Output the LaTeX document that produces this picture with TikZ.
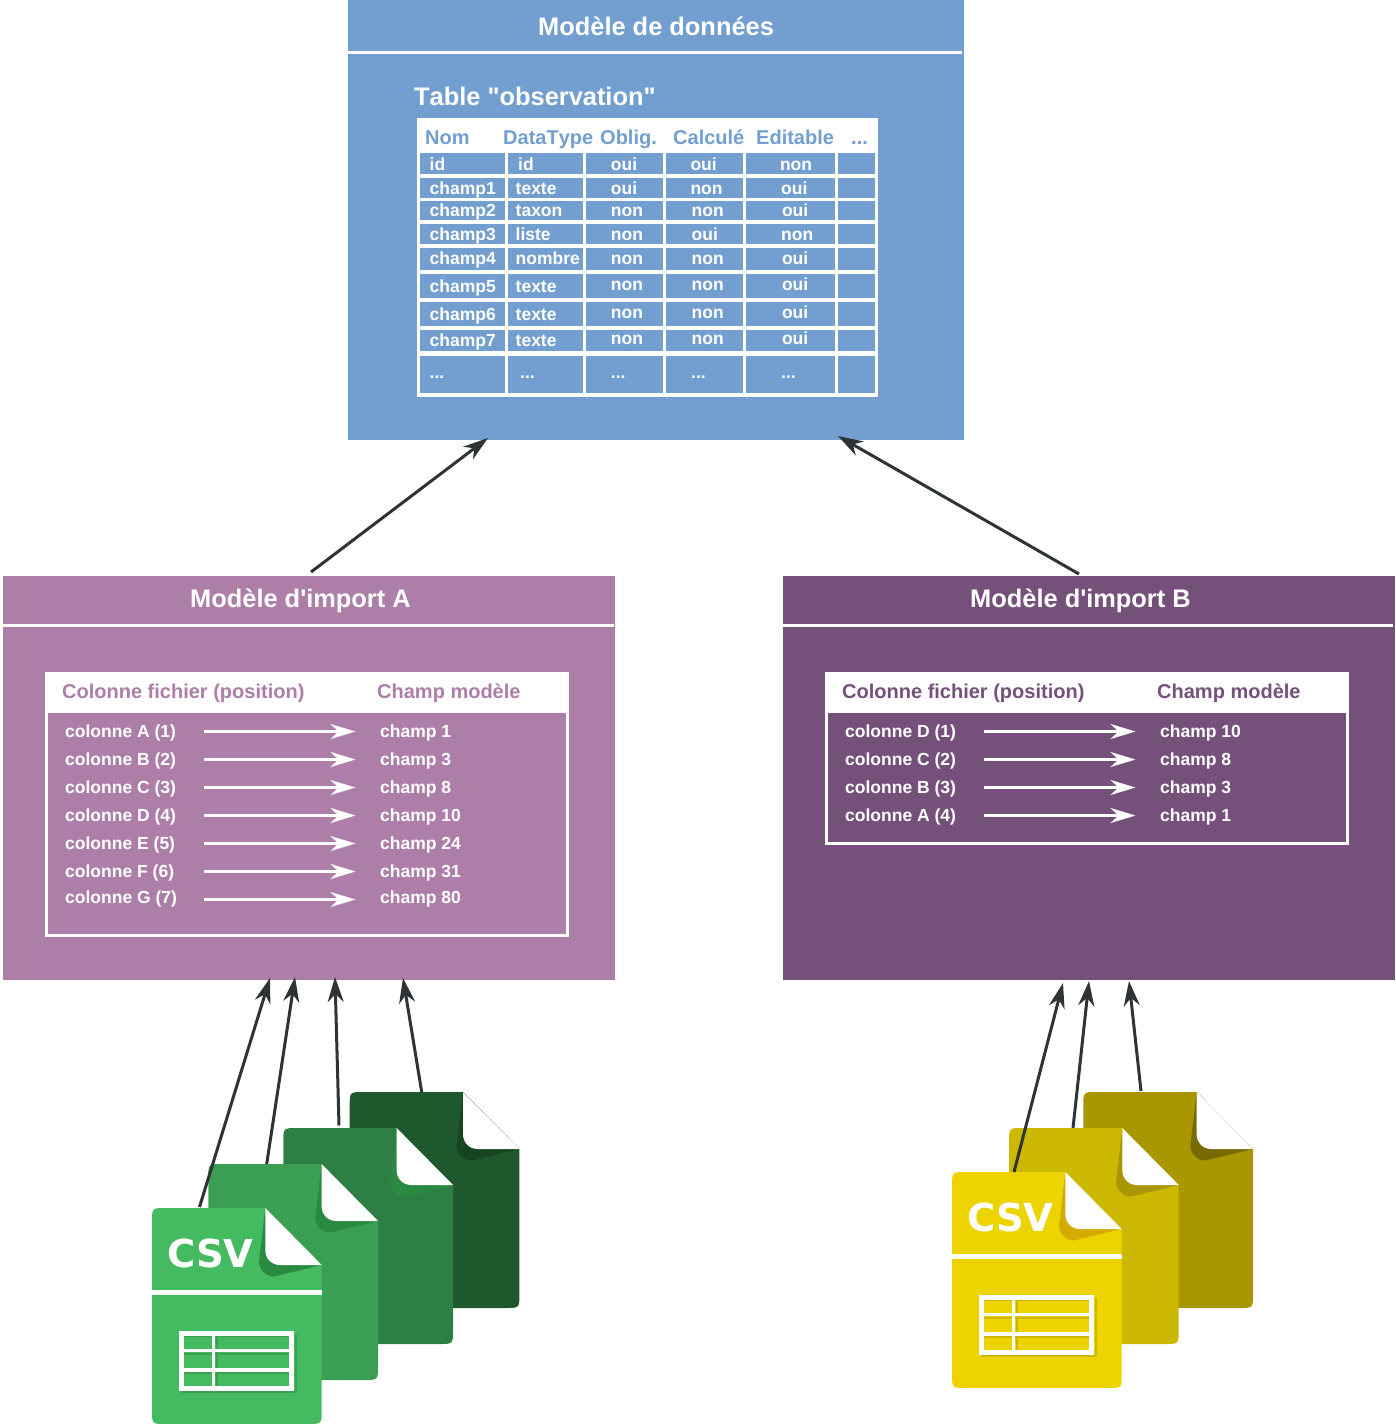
\documentclass[tikz,border=0pt]{standalone}
\usepackage{fontspec}
\usetikzlibrary{arrows.meta,positioning}
\newfontfamily\labelfont[Kerning=Off]{Liberation Sans}
\newfontfamily\csvfont{DejaVu Sans}
\newcommand{\pts}{...}
\definecolor{bleu}{HTML}{729FCF}
\definecolor{mauve}{HTML}{AD7FA8}
\definecolor{prune}{HTML}{75507B}
\definecolor{encre}{HTML}{2E3436}
\definecolor{vertA}{HTML}{44BB60}
\definecolor{vertB}{HTML}{3A9F52}
\definecolor{vertC}{HTML}{2E7F43}
\definecolor{vertD}{HTML}{1F582C}
\definecolor{plisA}{HTML}{2A8A42}
\definecolor{plisD}{HTML}{174520}
\definecolor{jauneA}{HTML}{EDD400}
\definecolor{jauneB}{HTML}{CDB800}
\definecolor{jauneC}{HTML}{A99600}
\definecolor{plisE}{HTML}{D4AC00}
\definecolor{plisF}{HTML}{776A00}
\tikzset{
    panel/.style =  {rectangle,
                    anchor=north west,
                    inner sep=0pt,
                    outer sep=0pt},
    titre/.style =  {anchor=base west,
                    inner sep=0pt,
                    text=white,
                    font=\labelfont\bfseries\fontsize{25.4}{28}\selectfont},
    entete/.style = {anchor=base west,
                    inner sep=0pt,
                    font=\labelfont\bfseries\fontsize{20}{23}\selectfont},
    ligne/.style =  {anchor=base west,
                    inner sep=0pt,
                    text=white,
                    font=\labelfont\bfseries\fontsize{17.5}{20}\selectfont},
    filet/.style =  {white,
                    line width=3pt},
    lien/.style =   {white,
                    line width=2.6pt,
                    -{Stealth[length=25pt,width=15pt,inset=8pt]}},
    fleche/.style = {encre,
                    line width=3pt,
                    -{Stealth[length=25pt,width=16pt,inset=8pt]}},
    pics/csvfile/.style 2 args = {code={
        \fill[#1] (113.3,0) -- (169.7,57) -- (169.7,202)
            .. controls (169.7,216) .. (155.7,216) -- (14,216)
            .. controls (0,216) .. (0,202) -- (0,14)
            .. controls (0,0) .. (14,0) -- cycle;
        \fill[#2] (113.3,0) -- (107,54) .. controls (107,62) and (115,69) .. (122,68.5)
            -- (169.7,57) -- cycle;
        \fill[white] (113.3,0) -- (169.7,57) -- (128.3,57)
            .. controls (118,57) and (113.3,49) .. (113.3,42) -- cycle;
    }},
    pics/csvfront/.style 2 args = {code={
        \pic {csvfile={#1}{#2}};
        \node[anchor=base west,inner sep=0pt,text=white,
            font=\csvfont\bfseries\fontsize{38.5}{40}\selectfont] (-csv) at (15,59) {CSV};
        \draw[white,line width=5pt] (0,84.7) -- (169.7,84.7);
        \draw[black,opacity=.14,line width=2pt] (31.5,127.5) -- (141,127.5)
            (31.5,145.5) -- (137,145.5) (31.5,164.5) -- (137,164.5) (64.5,127) -- (64.5,178)
            (29,184) -- (143,184) (143.5,126) -- (143.5,184);
        \draw[white,line width=3.5pt] (61.5,122.7) -- (61.5,182.7)
            (27.3,142.7) -- (142,142.7) (27.3,162) -- (142,162);
        \draw[white,line width=5pt] (29.8,125.2) rectangle (139.5,180.2);
    }},
    >=stealth,
    x=1pt,
    y=-1pt}
\begin{document}
\begin{tikzpicture}
    \useasboundingbox (0,0) rectangle (1395,1424);

    % modele de donnees
    \node[panel,fill=bleu,minimum width=616pt,minimum height=440pt] (donnees) at (348,0) {};
    \draw[filet] (348,52.5) -- (962,52.5);
    \node[titre] (titreDonnees) at (538,35.5) {Modèle de données};
    \node[titre] (titreTable) at (414,105) {Table "observation"};
    \node[panel,fill=white,minimum width=461pt,minimum height=278.4pt] (table) at (417,118.3) {};
    \node[entete,text=bleu] (hNom) at (425,144) {Nom};
    \node[entete,text=bleu] (hType) at (503,144) {DataType};
    \node[entete,text=bleu] (hOblig) at (600,144) {Oblig.};
    \node[entete,text=bleu] (hCalc) at (673,144) {Calculé};
    \node[entete,text=bleu] (hEdit) at (756,144) {Editable};
    \node[entete,text=bleu] (hPlus) at (851,144) {...};
    \foreach \ya/\yb/\ba/\bb/\nom/\typ/\xt/\obl/\cal/\xc/\edi/\xe [count=\r] in {
        153.3/173.7/170/170/id/id/518/oui/oui/690.3/non/779.8,
        177.7/198/194/194/champ1/texte/515.5/oui/non/690.3/oui/781,
        201.3/219.7/216/216/champ2/taxon/515.5/non/non/691.5/oui/781.8,
        223.7/243.7/240/240/champ3/liste/515.5/non/oui/691.5/non/781,
        247.7/269.7/264/264/champ4/nombre/515.5/non/non/691.5/oui/781.8,
        273.7/297.7/292/290/champ5/texte/515.5/non/non/691.5/oui/781.8,
        301.7/325.7/320/318/champ6/texte/515.5/non/non/691.5/oui/781.8,
        329.7/351.3/346/344.3/champ7/texte/515.5/non/non/691.5/oui/781.8,
        355.7/393.3/378/378/\pts/\pts/520/\pts/\pts/691/\pts/781}
    {
        \foreach \xa/\xb in {420.4/505,507.8/583,585.8/662.6,665.8/742.6,745.9/834.9,838.1/875}
            \fill[bleu] (\xa,\ya) rectangle (\xb,\yb);
        \node[ligne] (nom\r) at (429.5,\ba) {\nom};
        \node[ligne] (typ\r) at (\xt,\ba) {\typ};
        \node[ligne] (obl\r) at (610.7,\bb) {\obl};
        \node[ligne] (cal\r) at (\xc,\bb) {\cal};
        \node[ligne] (edi\r) at (\xe,\bb) {\edi};
    }

    % modele d'import A
    \node[panel,fill=mauve,minimum width=612pt,minimum height=404.5pt] (importA) at (3,575.5) {};
    \draw[filet] (3,625) -- (614,625);
    \node[titre] (titreA) at (190,607.5) {Modèle d'import A};
    \node[panel,fill=white,minimum width=524pt,minimum height=41pt] (enteteA) at (44.7,671.7) {};
    \node[panel,draw=white,line width=3pt,minimum width=521pt,minimum height=262.5pt] (cadreA) at (46.2,673.2) {};
    \node[entete,text=mauve] (colA) at (62,698.5) {Colonne fichier (position)};
    \node[entete,text=mauve] (chpA) at (377,698.5) {Champ modèle};
    \foreach \y/\ba/\col/\chp [count=\r] in {
        731.5/737.5/colonne A (1)/champ 1,
        759.5/765.5/colonne B (2)/champ 3,
        787.5/793.5/colonne C (3)/champ 8,
        815.5/821.5/colonne D (4)/champ 10,
        843.5/849.5/colonne E (5)/champ 24,
        871.5/877.5/colonne F (6)/champ 31,
        899.5/903.5/colonne G (7)/champ 80}
    {
        \node[ligne] (colA\r) at (65,\ba) {\col};
        \node[ligne] (chpA\r) at (380,\ba) {\chp};
        \coordinate (deA\r) at (204,\y);
        \coordinate (versA\r) at (355.5,\y);
        \draw[lien] (deA\r) -- (versA\r);
    }

    % modele d'import B
    \node[panel,fill=prune,minimum width=612pt,minimum height=404.5pt] (importB) at (783,575.5) {};
    \draw[filet] (783,625) -- (1393,625);
    \node[titre] (titreB) at (970,607.5) {Modèle d'import B};
    \node[panel,fill=white,minimum width=524pt,minimum height=41pt] (enteteB) at (824.7,671.7) {};
    \node[panel,draw=white,line width=3pt,minimum width=521pt,minimum height=170pt] (cadreB) at (826.2,673.2) {};
    \node[entete,text=prune] (colB) at (842,698.5) {Colonne fichier (position)};
    \node[entete,text=prune] (chpB) at (1157,698.5) {Champ modèle};
    \foreach \y/\ba/\col/\chp [count=\r] in {
        731.5/737.5/colonne D (1)/champ 10,
        759.5/765.5/colonne C (2)/champ 8,
        787.5/793.5/colonne B (3)/champ 3,
        815.5/821.5/colonne A (4)/champ 1}
    {
        \node[ligne] (colB\r) at (845,\ba) {\col};
        \node[ligne] (chpB\r) at (1160,\ba) {\chp};
        \coordinate (deB\r) at (984,\y);
        \coordinate (versB\r) at (1135.5,\y);
        \draw[lien] (deB\r) -- (versB\r);
    }

    % fichiers csv
    \pic (verts4) at (349.7,1092) {csvfile={vertD}{plisD}};
    \pic (verts3) at (283.3,1128) {csvfile={vertC}{plisA}};
    \pic (verts2) at (208.3,1164) {csvfile={vertB}{plisA}};
    \pic (verts1) at (152,1208) {csvfront={vertA}{plisA}};
    \pic (jaunes3) at (1083.3,1092) {csvfile={jauneC}{plisF}};
    \pic (jaunes2) at (1009,1128) {csvfile={jauneB}{jauneC}};
    \pic (jaunes1) at (952,1172) {csvfront={jauneA}{plisE}};

    % fleches
    \coordinate (hautA) at (311,572);
    \coordinate (basD1) at (488,438);
    \coordinate (hautB) at (1079,574);
    \coordinate (basD2) at (838,436);
    \draw[fleche] (hautA) -- (basD1);
    \draw[fleche] (hautB) -- (basD2);
    \coordinate (f1) at (199.5,1207);
    \coordinate (f2) at (266.7,1164);
    \coordinate (f3) at (339,1125.5);
    \coordinate (f4) at (421.7,1092);
    \coordinate (a1) at (270,978);
    \coordinate (a2) at (295,977);
    \coordinate (a3) at (335,977);
    \coordinate (a4) at (403,978);
    \coordinate (g1) at (1014,1172);
    \coordinate (g2) at (1073,1128);
    \coordinate (g3) at (1141,1091);
    \coordinate (b1) at (1063,983);
    \coordinate (b2) at (1089,981);
    \coordinate (b3) at (1129,981);
    \path [fleche]  (f1) edge [] (a1)
                    (f2) edge [] (a2)
                    (f3) edge [] (a3)
                    (f4) edge [] (a4)
                    (g1) edge [] (b1)
                    (g2) edge [] (b2)
                    (g3) edge [] (b3);
\end{tikzpicture}
\end{document}
